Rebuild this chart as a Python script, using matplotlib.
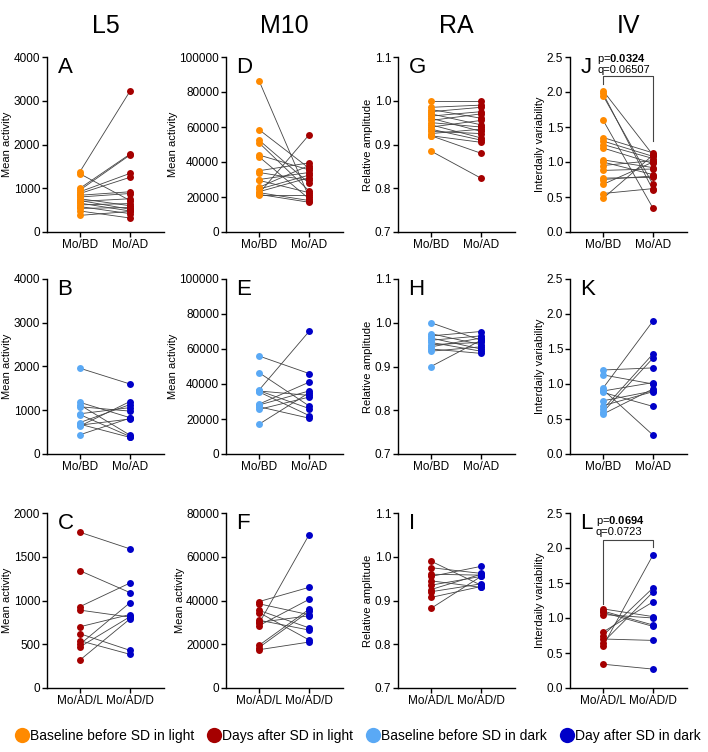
import matplotlib
matplotlib.use("Agg")
import matplotlib.pyplot as plt
from matplotlib.lines import Line2D

plt.rcParams['font.family'] = ['Liberation Sans', 'DejaVu Sans']
plt.rcParams['mathtext.fontset'] = 'custom'
plt.rcParams['mathtext.rm'] = 'Liberation Sans'
plt.rcParams['mathtext.bf'] = 'Liberation Sans:bold'

# colours
c_bl = '#FF8A00'   # baseline before SD in light
c_al = '#A50000'   # days after SD in light
c_bd = '#5AA9F5'   # baseline before SD in dark
c_ad = '#0000C8'   # day after SD in dark

col_titles = ['L5', 'M10', 'RA', 'IV']
ylabels = ['Mean activity', 'Mean activity', 'Relative amplitude', 'Interdaily variability']

# row 1: light SD (Mo/BD vs Mo/AD)
A_bd = [1380, 1330, 1000, 960, 920, 880, 840, 800, 760, 720, 700, 660, 620, 580, 540, 480, 380]
A_ad = [3220, 720, 1780, 1760, 1340, 1250, 920, 880, 600, 520, 760, 480, 650, 420, 560, 320, 470]
D_bd = [86500, 58500, 52500, 51000, 44000, 43000, 35000, 34000, 30000, 29500, 25500, 24500, 23000, 22500, 22000, 21500, 21000]
D_ad = [20000, 36500, 28000, 23500, 35500, 19000, 39500, 29500, 34000, 22500, 38000, 32500, 31000, 18000, 55500, 17000, 21000]
G_bd = [1.0, 0.985, 0.98, 0.975, 0.97, 0.965, 0.96, 0.955, 0.95, 0.945, 0.94, 0.935, 0.93, 0.925, 0.92, 0.92, 0.885]
G_ad = [1.0, 0.99, 0.96, 0.985, 0.945, 0.975, 0.93, 0.97, 0.94, 0.915, 0.955, 0.91, 0.925, 0.935, 0.905, 0.88, 0.823]
J_bd = [2.02, 1.98, 1.95, 1.6, 1.35, 1.3, 1.25, 1.2, 1.03, 1.0, 0.95, 0.88, 0.77, 0.75, 0.68, 0.55, 0.48]
J_ad = [1.1, 0.6, 0.68, 0.34, 1.13, 1.08, 1.05, 0.98, 0.92, 0.82, 1.02, 0.9, 0.78, 0.8, 1.0, 0.62, 1.1]

# row 2: dark SD (Mo/BD vs Mo/AD)
B_bd = [1960, 1180, 1120, 1080, 920, 900, 720, 680, 660, 640, 440]
B_ad = [1600, 830, 430, 980, 1060, 400, 1130, 380, 800, 1200, 820]
E_bd = [56000, 46500, 36500, 36000, 35500, 28500, 27000, 25500, 17000, 36200, 28000]
E_ad = [46000, 27500, 70000, 33500, 22000, 41000, 20500, 32500, 35000, 26000, 36000]
H_bd = [1.0, 0.975, 0.97, 0.965, 0.96, 0.955, 0.95, 0.945, 0.94, 0.935, 0.9]
H_ad = [0.96, 0.95, 0.98, 0.94, 0.97, 0.935, 0.955, 0.965, 0.93, 0.945, 0.96]
K_bd = [1.2, 1.13, 0.94, 0.92, 0.9, 0.88, 0.76, 0.69, 0.64, 0.6, 0.57]
K_ad = [1.23, 1.0, 1.9, 0.27, 1.02, 0.68, 0.9, 0.89, 1.43, 1.37, 0.93]

# row 3: after SD, light vs dark (Mo/AD/L vs Mo/AD/D)
C_l = [1780, 1340, 930, 890, 700, 620, 540, 500, 470, 320]
C_d = [1590, 1090, 1200, 810, 840, 430, 385, 975, 815, 790]
F_l = [39500, 38500, 35500, 34500, 31000, 29500, 28500, 19500, 18500, 17500, 30000]
F_d = [46000, 33500, 27500, 22000, 26500, 70000, 40500, 36000, 35000, 21000, 33000]
I_l = [0.99, 0.975, 0.96, 0.955, 0.945, 0.935, 0.925, 0.92, 0.907, 0.882]
I_d = [0.935, 0.962, 0.958, 0.978, 0.93, 0.955, 0.96, 0.938, 0.932, 0.955]
L_l = [1.13, 1.1, 1.08, 1.05, 0.8, 0.75, 0.7, 0.65, 0.6, 0.34]
L_d = [1.02, 0.9, 0.88, 1.0, 1.23, 1.43, 0.68, 1.37, 1.9, 0.27]

xt_top = ['Mo/BD', 'Mo/AD']
xt_bot = ['Mo/AD/L', 'Mo/AD/D']

panels = [
    [('A', A_bd, A_ad, c_bl, c_al, xt_top), ('D', D_bd, D_ad, c_bl, c_al, xt_top),
     ('G', G_bd, G_ad, c_bl, c_al, xt_top), ('J', J_bd, J_ad, c_bl, c_al, xt_top)],
    [('B', B_bd, B_ad, c_bd, c_ad, xt_top), ('E', E_bd, E_ad, c_bd, c_ad, xt_top),
     ('H', H_bd, H_ad, c_bd, c_ad, xt_top), ('K', K_bd, K_ad, c_bd, c_ad, xt_top)],
    [('C', C_l, C_d, c_al, c_ad, xt_bot), ('F', F_l, F_d, c_al, c_ad, xt_bot),
     ('I', I_l, I_d, c_al, c_ad, xt_bot), ('L', L_l, L_d, c_al, c_ad, xt_bot)],
]

ylims = [
    [(0, 4000, 1000), (0, 100000, 20000), (0.7, 1.1, 0.1), (0, 2.5, 0.5)],
    [(0, 4000, 1000), (0, 100000, 20000), (0.7, 1.1, 0.1), (0, 2.5, 0.5)],
    [(0, 2000, 500), (0, 80000, 20000), (0.7, 1.1, 0.1), (0, 2.5, 0.5)],
]

W, H = 708, 752
fig = plt.figure(figsize=(W / 100, H / 100), dpi=100)

lefts = [47, 226, 398, 570]
tops = [57, 279, 513]
aw, ah = 117, 175

axes = {}
for r in range(3):
    for c in range(4):
        lab, y0, y1, col0, col1, xt = panels[r][c]
        ax = fig.add_axes([lefts[c] / W, 1 - (tops[r] + ah) / H, aw / W, ah / H])
        axes[lab] = ax
        for a, b in zip(y0, y1):
            ax.plot([0, 1], [a, b], color='#444444', lw=0.6, zorder=1)
        ax.plot([0] * len(y0), y0, 'o', color=col0, ms=5, mec='none', zorder=2)
        ax.plot([1] * len(y1), y1, 'o', color=col1, ms=5, mec='none', zorder=2)
        lo, hi, st = ylims[r][c]
        ax.set_ylim(lo, hi)
        n = int(round((hi - lo) / st))
        ticks = [lo + i * st for i in range(n + 1)]
        ax.set_yticks(ticks)
        if c >= 2:
            ax.set_yticklabels(['%.1f' % t for t in ticks])
        else:
            ax.set_yticklabels(['%d' % t for t in ticks])
        ax.set_xlim(-0.66, 1.68)
        ax.set_xticks([0, 1])
        ax.set_xticklabels(xt)
        ax.spines['top'].set_visible(False)
        ax.spines['right'].set_visible(False)
        ax.spines['left'].set_linewidth(1.0)
        ax.spines['bottom'].set_linewidth(1.0)
        ax.tick_params(labelsize=8.5, length=3.5, width=1, pad=1.5)
        ax.set_ylabel(ylabels[c], fontsize=8, labelpad=1)
        ax.text(0.09, 1.0, lab, transform=ax.transAxes, fontsize=16,
                ha='left', va='top')
        if r == 0:
            ax.set_title(col_titles[c], fontsize=18, pad=17)

# significance brackets
axJ = axes['J']
axJ.plot([0, 0, 1, 1], [2.11, 2.23, 2.23, 1.3], color='#444444', lw=0.8)
axJ.text(-0.12, 2.47, r'p=$\mathbf{0.0324}$', fontsize=8, ha='left', va='center')
axJ.text(-0.12, 2.31, 'q=0.06507', fontsize=8, ha='left', va='center')

axL = axes['L']
axL.plot([0, 0, 1, 1], [1.2, 2.12, 2.12, 2.02], color='#444444', lw=0.8)
axL.text(-0.15, 2.39, r'p=$\mathbf{0.0694}$', fontsize=8, ha='left', va='center')
axL.text(-0.15, 2.23, 'q=0.0723', fontsize=8, ha='left', va='center')

# legend
leg_labels = ['Baseline before SD in light', 'Days after SD in light',
              'Baseline before SD in dark', 'Day after SD in dark']
leg_cols = [c_bl, c_al, c_bd, c_ad]
handles = [Line2D([], [], marker='o', ls='none', color=cc, ms=11, mec='none')
           for cc in leg_cols]
fig.legend(handles, leg_labels, loc='center', bbox_to_anchor=(0.505, 1 - 736 / H),
           ncol=4, frameon=False, fontsize=10, handletextpad=0.0,
           columnspacing=0.9, handlelength=1.1)

fig.savefig('out.png', dpi=100)
